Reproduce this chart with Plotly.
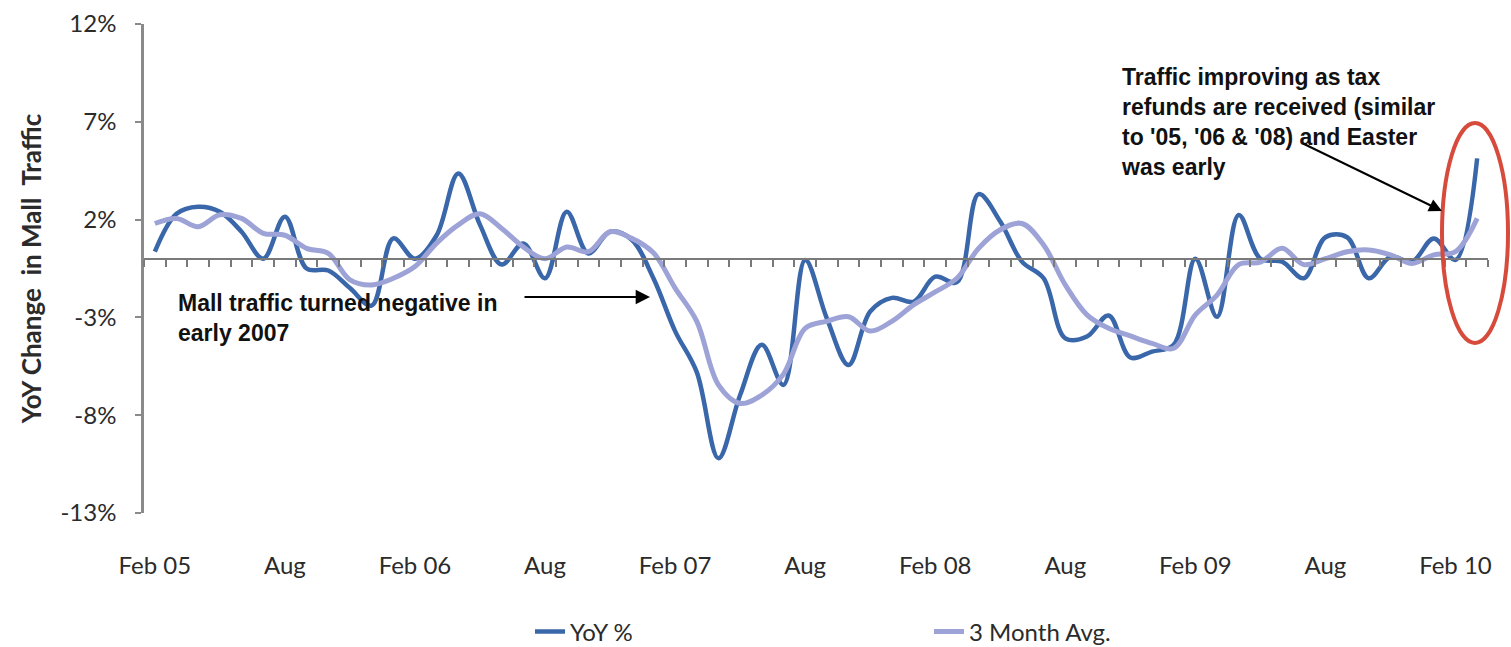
import plotly.graph_objects as go

# ---------------- data ----------------
months = [
    "Feb 05", "Mar 05", "Apr 05", "May 05", "Jun 05", "Jul 05", "Aug 05", "Sep 05", "Oct 05", "Nov 05", "Dec 05",
    "Jan 06", "Feb 06", "Mar 06", "Apr 06", "May 06", "Jun 06", "Jul 06", "Aug 06", "Sep 06", "Oct 06", "Nov 06", "Dec 06",
    "Jan 07", "Feb 07", "Mar 07", "Apr 07", "May 07", "Jun 07", "Jul 07", "Aug 07", "Sep 07", "Oct 07", "Nov 07", "Dec 07",
    "Jan 08", "Feb 08", "Mar 08", "Apr 08", "May 08", "Jun 08", "Jul 08", "Aug 08", "Sep 08", "Oct 08", "Nov 08", "Dec 08",
    "Jan 09", "Feb 09", "Mar 09", "Apr 09", "May 09", "Jun 09", "Jul 09", "Aug 09", "Sep 09", "Oct 09", "Nov 09", "Dec 09",
    "Jan 10", "Feb 10", "Mar 10",
]

yoy_pct = [
    0.36, 2.3, 2.66, 2.4, 1.38, 0.0, 2.15, -0.5, -0.6, -1.5, -2.4,
    1.04, 0.0, 1.2, 4.36, 1.73, -0.3, 0.78, -1.0, 2.4, 0.27, 1.38, 0.97,
    -1.0, -3.7, -5.8, -10.2, -6.97, -4.4, -6.45, -0.06, -3.05, -5.43, -2.7, -2.0,
    -2.2, -0.92, -1.2, 3.3, 1.9, -0.15, -1.0, -4.07, -3.98, -2.9, -5.05, -4.75,
    -4.4, 0.0, -2.97, 2.24, 0.0, -0.15, -1.0, 1.1, 1.1, -1.0, 0.1, -0.15,
    1.04, -0.06, 5.13,
]

three_month_avg = [
    1.8, 2.06, 1.64, 2.25, 2.06, 1.3, 1.2, 0.53, 0.27, -1.08, -1.34,
    -1.0, -0.4, 0.8, 1.73, 2.3, 1.55, 0.6, 0.0, 0.6, 0.36, 1.38, 1.04,
    0.3, -1.5, -3.2, -6.45, -7.4, -6.97, -5.9, -3.56, -3.2, -2.97, -3.7, -3.2,
    -2.36, -1.7, -1.0, 0.53, 1.48, 1.8, 0.7, -1.34, -2.87, -3.56, -3.95, -4.33,
    -4.58, -2.87, -1.86, -0.3, -0.17, 0.53, -0.3, 0.0, 0.36, 0.45, 0.2, -0.24,
    0.2, 0.36, 2.06,
]

x_tick_labels = ["Feb 05", "Aug", "Feb 06", "Aug", "Feb 07", "Aug", "Feb 08", "Aug", "Feb 09", "Aug", "Feb 10"]
y_tick_values = [12, 7, 2, -3, -8, -13]

# ---------------- layout helpers ----------------
W, H = 1511, 647
L, R, T, B = 144, 1488, 24, 513


def px_x(px):
    return (px - L) / (R - L)


def px_y(py):
    return (B - py) / (B - T)


idx = list(range(len(months)))
n = len(months)
y_min, y_max = -13, 12

fig = go.Figure()
fig.add_trace(go.Scatter(
    x=idx, y=yoy_pct, mode="lines", name="YoY %",
    line=dict(color="#3A67AA", width=4.5, shape="spline", smoothing=1.0),
    customdata=months, hovertemplate="%{customdata}: %{y:.1f}%<extra></extra>",
))
fig.add_trace(go.Scatter(
    x=idx, y=three_month_avg, mode="lines", name="3 Month Avg.",
    line=dict(color="#9DA3D6", width=5, shape="spline", smoothing=1.0),
    customdata=months, hovertemplate="%{customdata}: %{y:.1f}%<extra></extra>",
))

tick_font = dict(family="Lato, Carlito, Calibri, sans-serif", size=24, color="#2b2b2b")
ann_font = dict(family="Liberation Sans, Arial, sans-serif", size=23, color="#111111")

fig.update_layout(
    width=W, height=H,
    margin=dict(l=L, r=W - R, t=T, b=H - B, autoexpand=False),
    paper_bgcolor="white", plot_bgcolor="white",
    showlegend=True,
    legend=dict(
        orientation="h", x=px_x(530), xanchor="left", y=px_y(632), yanchor="middle",
        font=tick_font, entrywidth=354, entrywidthmode="pixels",
        bgcolor="rgba(0,0,0,0)", traceorder="normal",
    ),
    xaxis=dict(
        range=[-0.5, n - 0.5], showgrid=False, zeroline=False, showline=False,
        tickmode="array", tickvals=list(range(0, n, 6)), ticktext=x_tick_labels,
        ticks="", tickfont=tick_font, ticklabelstandoff=36,
    ),
    xaxis2=dict(
        overlaying="x", matches="x", anchor="free",
        position=(0 - y_min) / (y_max - y_min), side="bottom",
        range=[-0.5, n - 0.5], showgrid=False, zeroline=False,
        showline=True, linecolor="#7a7a7a", linewidth=2,
        tickmode="array", tickvals=[i - 0.5 for i in range(n + 1)],
        ticks="outside", ticklen=7, tickwidth=1.5, tickcolor="#7a7a7a",
        showticklabels=False,
    ),
    yaxis=dict(
        range=[y_min, y_max], showgrid=False, zeroline=False,
        showline=True, linecolor="#8a8a8a", linewidth=2.5,
        tickmode="array", tickvals=y_tick_values,
        ticktext=[f"{v}%" for v in y_tick_values],
        ticks="outside", ticklen=6, tickwidth=1.5, tickcolor="#8a8a8a",
        tickfont=tick_font, ticklabelstandoff=14,
        title=dict(text="<b>YoY Change  in Mall  Traffic</b>",
                   font=dict(family="Lato, Carlito, Calibri, sans-serif", size=26, color="#2b2b2b"),
                   standoff=12),
    ),
    hovermode="closest",
)

# dummy trace to activate the zero-line category axis
fig.add_trace(go.Scatter(x=[0], y=[0], xaxis="x2", mode="markers",
                         marker=dict(opacity=0), showlegend=False, hoverinfo="skip"))

fig.add_annotation(
    xref="paper", yref="paper", x=px_x(176), y=px_y(288), xanchor="left", yanchor="top",
    text="<b>Mall traffic turned negative in<br>early 2007</b>", align="left",
    showarrow=False, font=ann_font,
)
fig.add_annotation(
    xref="paper", yref="paper", x=px_x(1119), y=px_y(62), xanchor="left", yanchor="top",
    text="<b>Traffic improving as tax<br>refunds are received (similar<br>to '05, '06 & '08) and Easter<br>was early</b>",
    align="left", showarrow=False, font=ann_font,
)
# arrows
fig.add_annotation(
    xref="paper", yref="paper", x=px_x(650), y=px_y(297), text="",
    showarrow=True, ax=-127, ay=0, arrowhead=2, arrowsize=1.3, arrowwidth=2.2, arrowcolor="#000000",
)
fig.add_annotation(
    xref="paper", yref="paper", x=px_x(1442), y=px_y(211), text="",
    showarrow=True, ax=-140, ay=-68, arrowhead=2, arrowsize=1.3, arrowwidth=2, arrowcolor="#000000",
)

# red ellipse highlight
fig.add_shape(
    type="circle", xref="paper", yref="paper",
    x0=px_x(1442), x1=px_x(1508), y0=px_y(343), y1=px_y(123),
    line=dict(color="#D64B3C", width=4),
)

fig.write_html("out.html")
